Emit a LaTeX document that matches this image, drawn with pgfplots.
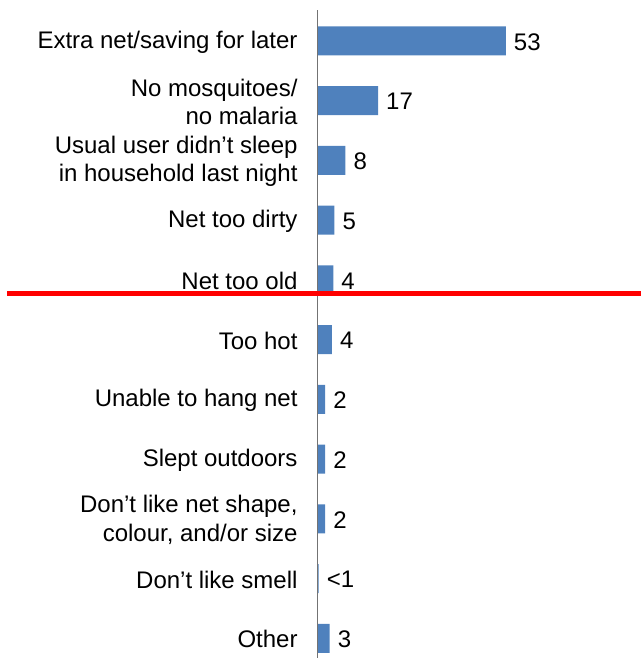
\documentclass[border=0pt]{standalone}
\usepackage{fontspec}
\setmainfont{Liberation Sans}
\usepackage{pgfplots}
\pgfplotsset{compat=1.18}
\definecolor{barblue}{HTML}{4F81BD}
\begin{document}
\begin{tikzpicture}
\begin{axis}[
  scale only axis,
  width=323.5bp, height=659bp,
  xmin=0, xmax=91.05,
  ymin=-0.334, ymax=10.686,
  clip=false,
  axis x line=none,
  axis y line=left,
  y axis line style={draw=none},
  major tick length=0pt,
  ytick={0,1,2,3,4,5,6,7,8,9,10},
  yticklabels={Other, Don’t like smell, {Don’t like net shape,\\colour, and/or size}, Slept outdoors, Unable to hang net, Too hot, Net too old, Net too dirty, {Usual user didn’t sleep\\in household last night}, {No mosquitoes/\\no malaria}, Extra net/saving for later},
  yticklabel style={font=\fontsize{24.1}{28.5}\selectfont, align=right, inner sep=0pt, anchor=east, xshift=-20bp, yshift=-1bp},
  xbar, bar width=29bp,
  point meta=explicit symbolic,
  nodes near coords,
  nodes near coords style={font=\fontsize{24.1}{28.5}\selectfont, anchor=west, inner sep=0pt, xshift=8bp, yshift=-1bp},
]
\addplot[fill=barblue, draw=none] coordinates {
  (3.4,0) [3]
  (0.3,1) [<1]
  (2.1,2) [2]
  (2.1,3) [2]
  (2.1,4) [2]
  (4.0,5) [4]
  (4.4,6) [4]
  (4.7,7) [5]
  (7.8,8) [8]
  (17,9) [17]
  (53,10) [53]
};
\draw[color=black!55, line width=1.3bp] (axis cs:0,10.518) -- (axis cs:0,-0.334);
\draw[red, line width=5bp] (axis cs:-87.4,5.781) -- (axis cs:91.05,5.781);
\path (axis cs:-89.5,-0.334) (rel axis cs:1,1);
\end{axis}
\end{tikzpicture}
\end{document}
